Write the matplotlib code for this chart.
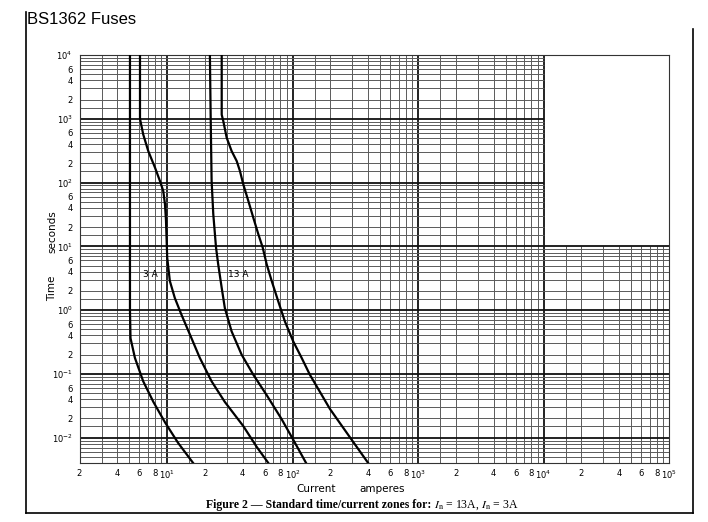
import numpy as np
import matplotlib
matplotlib.use("Agg")
import matplotlib.pyplot as plt
from matplotlib.lines import Line2D
from matplotlib.ticker import NullLocator

# Zone boundaries: current (A) and pre-arcing time (s)
i_3a_min = [5.05, 5.05, 5.1, 5.53, 6.44, 7.75, 9.6, 12.2, 16.1]
t_3a_min = [1e4, 1.0, 0.363, 0.178, 0.0764, 0.0365, 0.0174, 0.0083, 0.004]

i_3a_max = [6.07, 6.07, 6.44, 7.06, 8.0, 8.75, 9.3, 9.6, 9.78, 9.9, 10.0, 10.5,
            11.5, 13.0, 15.2, 18.2, 22.6, 28.8, 40.4, 51.6, 64.0]
t_3a_max = [1e4, 1000, 569, 313, 171, 106, 74, 45.8, 25.5, 12.3, 6.7, 2.86,
            1.55, 0.845, 0.411, 0.178, 0.0763, 0.0363, 0.0152, 0.0072, 0.004]

i_13a_min = [21.9, 22.2, 22.6, 23.3, 24.5, 25.5, 27.2, 28.8, 32.6, 39.2, 48.5,
             62.1, 81.7, 101, 128]
t_13a_min = [1e4, 1160, 106, 32, 9.6, 5.23, 2.23, 1.08, 0.465, 0.2, 0.0975,
             0.0464, 0.0195, 0.0093, 0.004]

i_13a_max = [27.2, 27.2, 28.0, 29.8, 32.6, 35.8, 38.0, 40.4, 44.3, 48.5, 53.2,
             57.7, 62.1, 68.1, 76.8, 86.7, 101, 118, 137, 198, 295, 400]
t_13a_max = [1e4, 1160, 920, 505, 313, 218, 152, 94, 51.8, 28.4, 15.6, 9.6,
             5.23, 2.86, 1.37, 0.666, 0.324, 0.178, 0.0975, 0.0283, 0.0093, 0.004]

# axis ticks
x_ticks = [2, 4, 6, 8, 10, 20, 40, 60, 80, 100, 200, 400, 600, 800, 1000,
           2000, 4000, 6000, 8000, 1e4, 2e4, 4e4, 6e4, 8e4, 1e5]
x_labels = ["2", "4", "6", "8", r"$10^{1}$"] + \
           ["2", "4", "6", "8", r"$10^{2}$"] + \
           ["2", "4", "6", "8", r"$10^{3}$"] + \
           ["2", "4", "6", "8", r"$10^{4}$"] + \
           ["2", "4", "6", "8", r"$10^{5}$"]
y_ticks = [0.01, 0.02, 0.04, 0.06, 0.1, 0.2, 0.4, 0.6, 1, 2, 4, 6, 10, 20, 40, 60,
           100, 200, 400, 600, 1000, 2000, 4000, 6000, 1e4]
y_labels = [r"$10^{-2}$", "2", "4", "6", r"$10^{-1}$", "2", "4", "6",
            r"$10^{0}$", "2", "4", "6", r"$10^{1}$", "2", "4", "6",
            r"$10^{2}$", "2", "4", "6", r"$10^{3}$", "2", "4", "6", r"$10^{4}$"]

XMIN, XMAX = 2, 1e5
YMIN, YMAX = 0.004, 1e4
grid_mults = [1, 1.5, 2, 3, 4, 5, 6, 7, 8, 9]

fig = plt.figure(figsize=(7.08, 5.22), dpi=100)
ax = fig.add_axes([0.1123, 0.1130, 0.8326, 0.7816])
ax.set_xscale("log")
ax.set_yscale("log")
ax.set_xlim(XMIN, XMAX)
ax.set_ylim(YMIN, YMAX)

# log-log paper, blank block top right (I > 1e4, t > 10)
for k in range(0, 5):
    for m in grid_mults:
        v = m * 10 ** k
        if v <= XMIN or v >= XMAX:
            continue
        top = 10 if v > 1e4 else YMAX
        major = (m == 1)
        ax.vlines(v, YMIN, top, colors="#111111" if major else "#5a5a5a",
                  linewidth=1.3 if major else 0.7, zorder=1)
for k in range(-3, 4):
    for m in grid_mults:
        v = m * 10.0 ** k
        if v <= YMIN or v >= YMAX:
            continue
        right = 1e4 if v > 10 else XMAX
        major = (m == 1)
        ax.hlines(v, XMIN, right, colors="#111111" if major else "#5a5a5a",
                  linewidth=1.3 if major else 0.7, zorder=1)

for xs, ts in [(i_3a_min, t_3a_min), (i_3a_max, t_3a_max),
               (i_13a_min, t_13a_min), (i_13a_max, t_13a_max)]:
    ax.plot(xs, ts, color="black", linewidth=1.6, zorder=3)

ax.text(7.3, 3.6, "3 A", fontsize=6.5, ha="center", va="center", zorder=4)
ax.text(36.6, 3.6, "13 A", fontsize=6.5, ha="center", va="center", zorder=4)

ax.set_xticks(x_ticks, x_labels)
ax.set_yticks(y_ticks, y_labels)
ax.xaxis.set_minor_locator(NullLocator())
ax.yaxis.set_minor_locator(NullLocator())
ax.tick_params(length=0, labelsize=6)
ax.tick_params(axis="x", pad=4)
ax.tick_params(axis="y", pad=5)
for s in ax.spines.values():
    s.set_color("#333333")
    s.set_linewidth(0.8)

# axis captions
fig.text(0.0735, 0.447, "Time", rotation=90, fontsize=7.5, ha="center", va="center")
fig.text(0.0735, 0.5556, "seconds", rotation=90, fontsize=7.5, ha="center", va="center")
fig.text(0.4463, 0.0632, "Current", fontsize=7.5, ha="center", va="center")
fig.text(0.5395, 0.0632, "amperes", fontsize=7.5, ha="center", va="center")

cap = fig.text(0.291, 0.0326, "Figure 2 \u2014 Standard time/current zones for: ",
               family="Liberation Serif", weight="bold", fontsize=8.5, va="center")
ax.annotate(r"$I_{\mathrm{n}}$ = 13A, $I_{\mathrm{n}}$ = 3A", xy=(1, 0.5),
            xycoords=cap, va="center", ha="left", family="Liberation Serif",
            fontsize=8.5, math_fontfamily="stix", annotation_clip=False)

fig.text(0.0381, 0.9617, "BS1362 Fuses", family="Liberation Sans", fontsize=12,
         va="center", ha="left")

# scanned page frame
fig.add_artist(Line2D([0.0367, 0.0367], [0.977, 0.0172], color="black", linewidth=1.2))
fig.add_artist(Line2D([0.0367, 0.9788], [0.0172, 0.0172], color="black", linewidth=1.2))
fig.add_artist(Line2D([0.9788, 0.9788], [0.9444, 0.0172], color="black", linewidth=1.2))

fig.savefig("out.png", dpi=100)
